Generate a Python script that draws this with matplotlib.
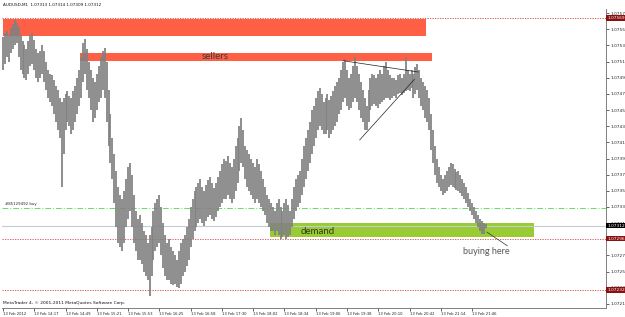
import matplotlib
matplotlib.use('Agg')
import matplotlib.pyplot as plt
from matplotlib.patches import Rectangle
import numpy as np

# AUDUSD M1, one stored bar per 2 minutes, prices as points above 1.07000
bar_minutes = 2
highs = [545, 550, 553, 548, 556, 562, 566, 563, 558, 548, 540, 535, 530, 540, 548,
         550, 542, 530, 525, 528, 535, 528, 515, 505, 500, 498, 492, 485, 480, 470,
         465, 470, 475, 478, 472, 470, 478, 485, 495, 505, 520, 538, 543, 530, 515,
         505, 495, 490, 500, 510, 520, 528, 532, 515, 480, 450, 420, 400, 380, 360,
         350, 345, 355, 370, 385, 390, 375, 350, 330, 320, 325, 315, 305, 300, 290,
         300, 310, 330, 340, 345, 350, 335, 315, 300, 290, 295, 285, 280, 275, 270,
         280, 290, 295, 300, 310, 320, 335, 345, 355, 360, 365, 370, 360, 355, 362,
         368, 372, 365, 358, 365, 372, 380, 388, 395, 392, 398, 390, 385, 395, 410,
         420, 435, 445, 430, 410, 405, 400, 395, 390, 385, 395, 388, 380, 370, 360,
         350, 345, 340, 335, 330, 340, 345, 335, 330, 340, 345, 338, 330, 345, 360,
         370, 375, 380, 395, 410, 420, 430, 440, 455, 460, 470, 478, 482, 475, 465,
         470, 475, 468, 472, 478, 485, 490, 495, 505, 515, 518, 505, 495, 500, 510,
         520, 510, 500, 490, 480, 470, 460, 480, 495, 500, 498, 495, 500, 505, 500,
         510, 515, 505, 498, 495, 495, 492, 498, 500, 495, 500, 520, 505, 500, 505,
         500, 508, 512, 505, 495, 490, 485, 480, 470, 450, 430, 410, 395, 385, 375,
         370, 375, 380, 385, 390, 388, 382, 378, 380, 375, 370, 365, 360, 352, 345,
         340, 335, 330, 325, 320, 318, 315, 314]
lows = [505, 512, 520, 515, 525, 530, 535, 538, 520, 505, 500, 495, 492, 500, 510,
        512, 505, 495, 490, 495, 500, 490, 480, 470, 465, 460, 450, 440, 430, 420,
        360, 400, 430, 440, 435, 425, 430, 440, 450, 460, 470, 490, 500, 480, 470,
        455, 440, 445, 455, 465, 470, 480, 470, 440, 410, 390, 370, 340, 310, 290,
        285, 280, 290, 310, 320, 330, 310, 290, 280, 270, 270, 265, 255, 250, 245,
        225, 250, 270, 280, 285, 290, 275, 260, 250, 245, 245, 240, 238, 240, 236,
        235, 240, 250, 255, 262, 270, 285, 295, 305, 310, 315, 320, 315, 312, 318,
        322, 325, 320, 318, 322, 330, 335, 340, 345, 345, 350, 345, 340, 345, 355,
        365, 380, 390, 385, 370, 360, 355, 350, 345, 340, 345, 340, 335, 330, 325,
        315, 310, 305, 305, 300, 305, 300, 296, 298, 300, 296, 298, 300, 310, 320,
        330, 335, 340, 350, 360, 370, 380, 390, 400, 410, 420, 430, 435, 430, 425,
        425, 430, 420, 425, 430, 435, 440, 450, 455, 465, 470, 460, 455, 458, 465,
        470, 465, 455, 445, 440, 430, 430, 440, 455, 460, 462, 460, 458, 462, 465,
        468, 470, 470, 468, 470, 472, 470, 475, 476, 474, 476, 478, 480, 478, 482,
        470, 475, 480, 470, 460, 455, 445, 440, 430, 405, 390, 375, 365, 360, 355,
        350, 352, 355, 360, 362, 360, 358, 356, 355, 352, 348, 345, 340, 335, 330,
        325, 320, 315, 310, 305, 302, 302, 309]

time_labels = ['13 Feb 2012', '13 Feb 14:17', '13 Feb 14:49', '13 Feb 15:21',
               '13 Feb 15:53', '13 Feb 16:25', '13 Feb 16:58', '13 Feb 17:30',
               '13 Feb 18:02', '13 Feb 18:34', '13 Feb 19:06', '13 Feb 19:38',
               '13 Feb 20:10', '13 Feb 20:42', '13 Feb 21:14', '13 Feb 21:46']
label_every = 32  # bars between time labels

red_levels = [1.07569, 1.07296, 1.07232]
bid_price = 1.07312
order_price = 1.07334
header = 'AUDUSD,M1  1.07313 1.07314 1.07309 1.07312'

xs = np.arange(len(highs)) * bar_minutes
hi = 1.07 + np.array(highs) / 1e5
lo = 1.07 + np.array(lows) / 1e5

fig = plt.figure(figsize=(6.25, 3.17), dpi=100)
ax = fig.add_axes([2 / 625, 9 / 317, 604 / 625, 299 / 317])
ax.set_xlim(-1, 617)
ax.set_ylim(1.07210, 1.07580)

# zones drawn behind the bars
ax.add_patch(Rectangle((0, 1.075466), 433, 0.000210, color='#ff5f45', lw=0, zorder=1))
ax.add_patch(Rectangle((79, 1.07516), 360, 0.00009, color='#ff5f45', lw=0, zorder=1))
ax.add_patch(Rectangle((273, 1.07298), 270, 0.00017, color='#99cc33', lw=0, zorder=1))

for p in red_levels:
    ax.axhline(p, color='#d04545', lw=0.6, ls=(0, (1.5, 1.5)), zorder=2)
ax.axhline(bid_price, color='#c4cad6', lw=0.8, zorder=2)
ax.axhline(order_price, color='#66dd66', lw=0.7, ls=(0, (6, 2, 1, 2)), zorder=2)

ax.vlines(xs, lo, hi, color='#808080', lw=1.25, zorder=3)

# trend lines and pointer
ax.plot([348, 425], [1.07516, 1.07502], color='#222222', lw=0.5, zorder=4)
ax.plot([365, 421], [1.07418, 1.07493], color='#222222', lw=0.5, zorder=4)
ax.plot([495, 516], [1.07304, 1.07287], color='#333333', lw=0.5, zorder=4)

ax.text(217, 1.07521, 'sellers', family='Lato', fontsize=7, color='#3a3a3a',
        ha='center', va='center', zorder=5)
ax.text(322, 1.07305, 'demand', family='Lato', fontsize=7, color='#2f3a20',
        ha='center', va='center', zorder=5)
ax.text(495, 1.07280, 'buying here', family='Lato', fontsize=6.5, color='#555555',
        ha='center', va='center', zorder=5)
ax.text(2, order_price + 0.00002, '#85129492 buy', fontsize=2.8,
        color='#222222', ha='left', va='bottom', zorder=5)

for s in ['top', 'left']:
    ax.spines[s].set_visible(False)
for s in ['right', 'bottom']:
    ax.spines[s].set_color('#808080')
    ax.spines[s].set_linewidth(0.7)

ax.yaxis.tick_right()
yt = np.round(np.arange(1.07215, 1.07576, 0.0002), 5)
ax.set_yticks(yt)
ax.set_yticklabels([f'{v:.5f}' for v in yt])
ax.tick_params(axis='y', labelsize=3.1, length=2, width=0.5, pad=1, colors='#222222')

ax.set_xticks([k * label_every for k in range(len(time_labels))])
ax.set_xticklabels(time_labels, ha='left')
ax.tick_params(axis='x', labelsize=2.7, length=2, width=0.5, pad=0.8, colors='#222222')

for p in red_levels:
    ax.text(1.002, p, f'{p:.5f}', transform=ax.get_yaxis_transform(),
            fontsize=3.1, color='white', ha='left', va='center', clip_on=False,
            bbox=dict(boxstyle='square,pad=0.2', fc='#8b1010', ec='none'))
ax.text(1.002, bid_price, f'{bid_price:.5f}', transform=ax.get_yaxis_transform(),
        fontsize=3.1, color='white', ha='left', va='center', clip_on=False,
        bbox=dict(boxstyle='square,pad=0.2', fc='#000000', ec='none'))

fig.text(3 / 625, 1 - 5 / 317, header, fontsize=3.0, color='#111111',
         ha='left', va='center')
fig.text(3 / 625, 1 - 303 / 317, 'MetaTrader 4, \u00a9 2001-2011 MetaQuotes Software Corp.',
         fontsize=3.2, color='#111111', ha='left', va='center')

fig.savefig('out.png', dpi=100)
plt.close(fig)
